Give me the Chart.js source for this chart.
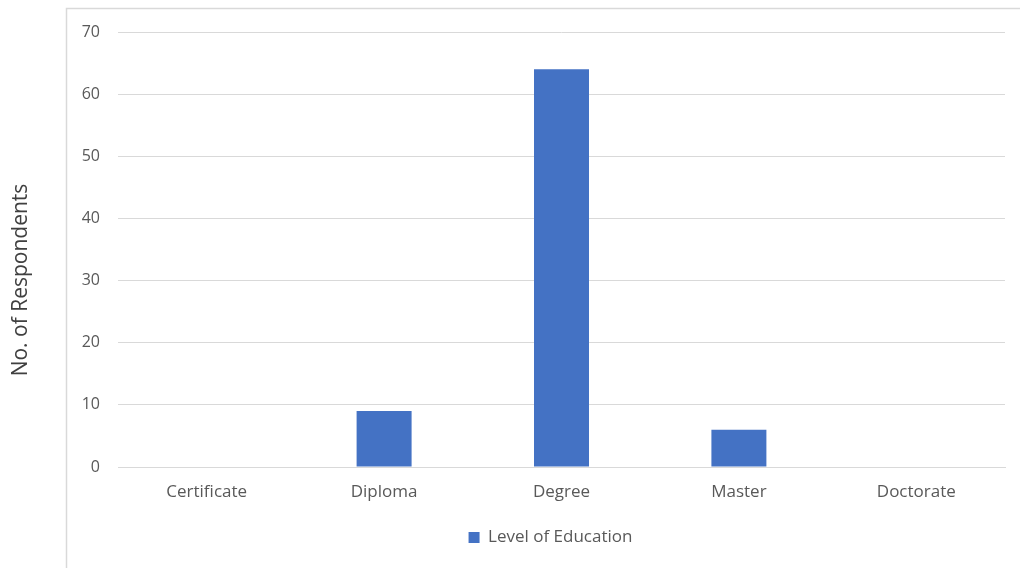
<!DOCTYPE html>
<html>
<head>
<meta charset="utf-8">
<script src="https://cdn.jsdelivr.net/npm/chart.js@4"></script>
<style>
  html, body { margin: 0; padding: 0; background: #fff; }
  #wrap { width: 1020px; height: 568px; position: relative; }
</style>
</head>
<body>
<div id="wrap"><canvas id="chart"></canvas></div>
<script>
// ---- Data ----
const categories = ['Certificate', 'Diploma', 'Degree', 'Master', 'Doctorate'];
const respondents = [0, 9, 64, 6, 0];
const seriesLabel = 'Level of Education';
const yTicks = [0, 10, 20, 30, 40, 50, 60, 70];
const yTitle = 'No. of Respondents';

const textColor = '#595959';
const gridColor = '#d9d9d9';
const fontFamily = "'Open Sans', 'Liberation Sans', sans-serif";

// outer frame of the chart object + y title centred on the whole frame
const framePlugin = {
    id: 'frame',
    beforeDraw(chart) {
        const ctx = chart.ctx;
        ctx.save();
        ctx.strokeStyle = '#d9d9d9';
        ctx.lineWidth = 1.5;
        ctx.beginPath();
        ctx.moveTo(66.5, 580);
        ctx.lineTo(66.5, 8.5);
        ctx.lineTo(1030, 8.5);
        ctx.stroke();

        ctx.translate(21, 280);
        ctx.rotate(-Math.PI / 2);
        ctx.fillStyle = '#404040';
        ctx.font = "21px " + fontFamily;
        ctx.textAlign = 'center';
        ctx.textBaseline = 'middle';
        ctx.fillText(yTitle, 0, 0);
        ctx.restore();
    },
    afterLayout(chart) {
        // legend sits a bit right of the canvas centre
        chart.legend.left += 48;
        chart.legend.right += 48;
    }
};

new Chart(document.getElementById('chart'), {
    type: 'bar',
    data: {
        labels: categories,
        datasets: [{
            label: seriesLabel,
            data: respondents,
            backgroundColor: '#4472c4',
            categoryPercentage: 1,
            barPercentage: 0.31
        }]
    },
    options: {
        responsive: true,
        maintainAspectRatio: false,
        animation: false,
        layout: { padding: { left: 0, top: 32, right: 15, bottom: 12 } },
        plugins: {
            legend: {
                position: 'bottom',
                labels: {
                    color: textColor,
                    boxWidth: 11,
                    boxHeight: 11,
                    padding: 10,
                    font: { family: fontFamily, size: 17 }
                }
            },
            tooltip: { enabled: false }
        },
        scales: {
            x: {
                grid: { display: false, drawTicks: false },
                border: { color: gridColor },
                ticks: {
                    color: textColor,
                    padding: 15,
                    font: { family: fontFamily, size: 17 }
                },
                afterFit: (axis) => { axis.height = 52; }
            },
            y: {
                min: 0,
                max: 70,
                afterBuildTicks: (axis) => { axis.ticks = yTicks.map(v => ({ value: v })); },
                grid: { color: gridColor, drawTicks: false },
                border: { display: false },
                ticks: {
                    color: textColor,
                    padding: 18,
                    font: { family: fontFamily, size: 16 }
                },
                afterFit: (axis) => { axis.width = 118; }
            }
        }
    },
    plugins: [framePlugin]
});
</script>
</body>
</html>
